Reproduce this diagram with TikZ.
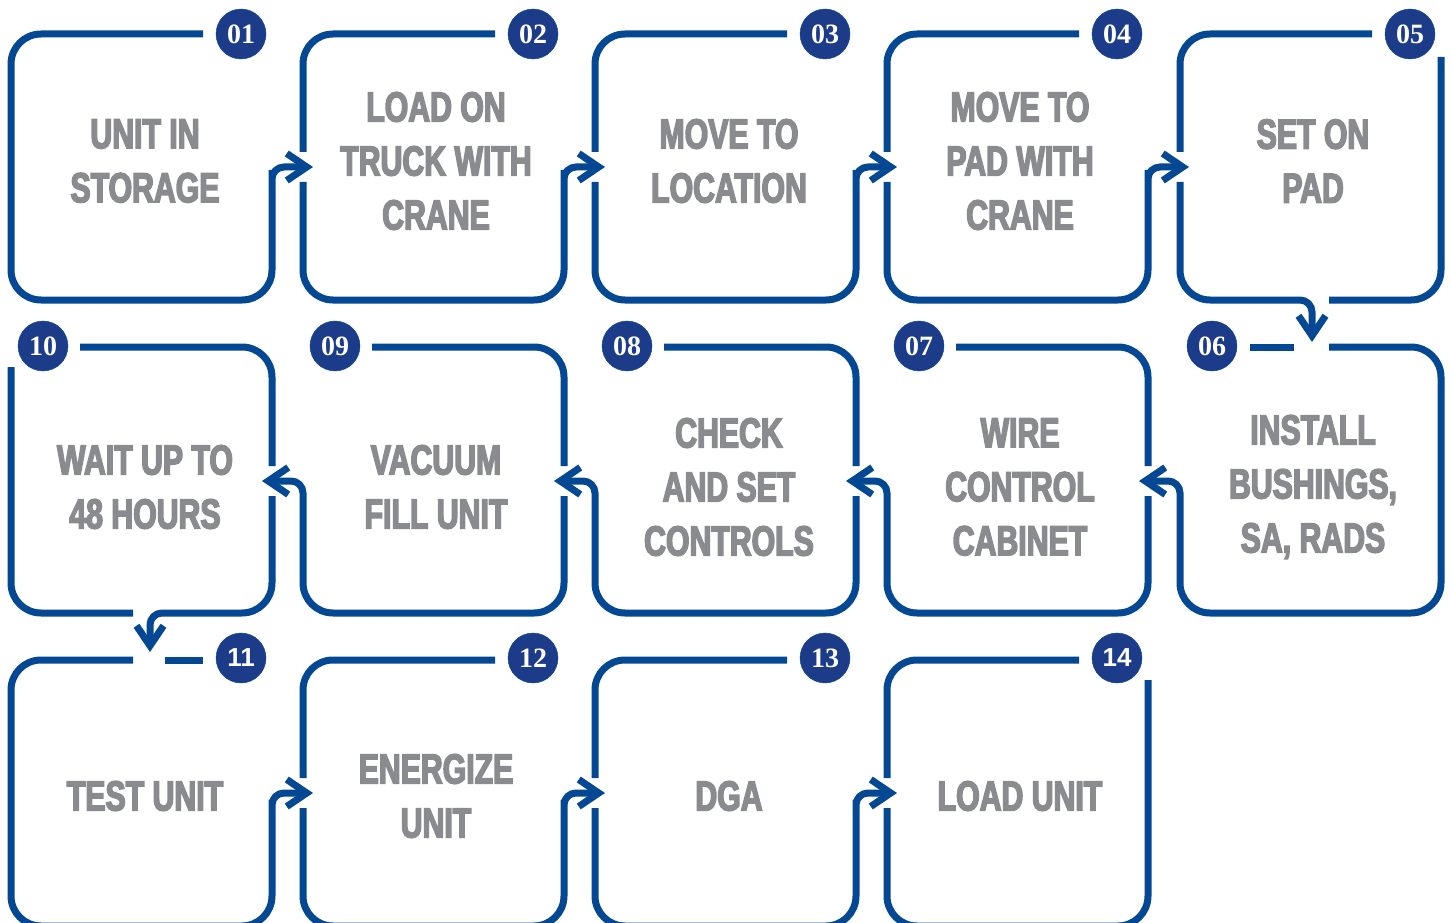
\documentclass[tikz,border=0pt]{standalone}
\usepackage{fontspec}
\usepackage{xcolor}
\usetikzlibrary{arrows.meta}
\newfontfamily\stepfont{Liberation Sans Bold}[FakeStretch=0.72,FakeBold=3.5]
\newfontfamily\numfont{Liberation Serif Bold}
\newfontfamily\numsans{Liberation Sans Bold}
\definecolor{lineblue}{RGB}{4,72,148}
\definecolor{numblue}{RGB}{28,60,138}
\definecolor{stepgray}{RGB}{138,139,143}
\tikzset{
    step-line/.style = {draw=lineblue, line width=7pt, rounded corners=30pt},
    step-arrow/.style = {step-line, -{Straight Barb[length=20pt,width=27pt]}},
    step-number/.style = {circle, fill=numblue, draw=lineblue, thin, minimum size=50pt, inner sep=0pt, text=white, font=\numfont\fontsize{28}{28}\selectfont},
    step-text/.style = {align=center, text=stepgray, font=\stepfont\fontsize{42}{54}\selectfont},
}
\begin{document}
\begin{tikzpicture}[x=1pt,y=-1pt]
\useasboundingbox (0,0) rectangle (1452,923);
\clip (0,0) rectangle (1452,923);

% first row, left to right
\draw[step-arrow] (203,34) -- (11,34) -- (11,300) -- (272,300) -- (272,200) [rounded corners=12pt] -- (272,167) -- (313,167);
\draw[step-line] (495,34) -- (303,34) -- (303,152);
\draw[step-arrow] (303,182) -- (303,300) -- (564,300) -- (564,200) [rounded corners=12pt] -- (564,167) -- (605,167);
\draw[step-line] (787,34) -- (595,34) -- (595,152);
\draw[step-arrow] (595,182) -- (595,300) -- (856,300) -- (856,200) [rounded corners=12pt] -- (856,167) -- (897,167);
\draw[step-line] (1079,34) -- (887,34) -- (887,152);
\draw[step-arrow] (887,182) -- (887,300) -- (1148,300) -- (1148,200) [rounded corners=12pt] -- (1148,167) -- (1189,167);
\draw[step-line] (1372,34) -- (1180,34) -- (1180,152);
\draw[step-arrow] (1180,182) -- (1180,300) -- (1250,300) [rounded corners=12pt] -- (1312,300) -- (1312,342);
\draw[step-line] (1441,57) -- (1441,300) -- (1329,300);

% second row, right to left
\draw[step-line] (1250,347) -- (1294,347);
\draw[step-arrow] (1329,347) -- (1441,347) -- (1441,613) -- (1180,613) -- (1180,530) [rounded corners=12pt] -- (1180,481) -- (1139,481);
\draw[step-line] (956,347) -- (1148,347) -- (1148,466);
\draw[step-arrow] (1148,496) -- (1148,613) -- (887,613) -- (887,530) [rounded corners=12pt] -- (887,481) -- (846,481);
\draw[step-line] (664,347) -- (856,347) -- (856,466);
\draw[step-arrow] (856,496) -- (856,613) -- (595,613) -- (595,530) [rounded corners=12pt] -- (595,481) -- (554,481);
\draw[step-line] (372,347) -- (564,347) -- (564,466);
\draw[step-arrow] (564,496) -- (564,613) -- (303,613) -- (303,530) [rounded corners=12pt] -- (303,481) -- (262,481);
\draw[step-line] (80,347) -- (272,347) -- (272,466);
\draw[step-arrow] (272,496) -- (272,613) -- (200,613) [rounded corners=12pt] -- (150,613) -- (150,652);
\draw[step-line] (11,367) -- (11,613) -- (133,613);

% third row, left to right
\draw[step-line] (165,660) -- (203,660);
\draw[step-arrow] (133,660) -- (11,660) -- (11,926) -- (272,926) -- (272,830) [rounded corners=12pt] -- (272,793) -- (313,793);
\draw[step-line] (495,660) -- (303,660) -- (303,778);
\draw[step-arrow] (303,808) -- (303,926) -- (564,926) -- (564,830) [rounded corners=12pt] -- (564,793) -- (605,793);
\draw[step-line] (787,660) -- (595,660) -- (595,778);
\draw[step-arrow] (595,808) -- (595,926) -- (856,926) -- (856,830) [rounded corners=12pt] -- (856,793) -- (897,793);
\draw[step-line] (1079,660) -- (887,660) -- (887,778);
\draw[step-line] (887,808) -- (887,926) -- (1148,926) -- (1148,680);

% numbers
\node[step-number] (n01) at (241,34) {01};
\node[step-number] (n02) at (533,34) {02};
\node[step-number] (n03) at (825,34) {03};
\node[step-number] (n04) at (1117,34) {04};
\node[step-number] (n05) at (1410,34) {05};
\node[step-number] (n06) at (1212,346) {06};
\node[step-number] (n07) at (919,346) {07};
\node[step-number] (n08) at (627,346) {08};
\node[step-number] (n09) at (335,346) {09};
\node[step-number] (n10) at (43,346) {10};
\node[step-number, font=\numsans\fontsize{26}{26}\selectfont] (n11) at (241,658) {11};
\node[step-number] (n12) at (533,658) {12};
\node[step-number] (n13) at (825,658) {13};
\node[step-number, font=\numsans\fontsize{26}{26}\selectfont] (n14) at (1117,658) {14};

% step texts
\node[step-text] (t01) at (145,161) {UNIT IN\\STORAGE};
\node[step-text] (t02) at (436,161) {LOAD ON\\TRUCK WITH\\CRANE};
\node[step-text] (t03) at (729,161) {MOVE TO\\LOCATION};
\node[step-text] (t04) at (1020,161) {MOVE TO\\PAD WITH\\CRANE};
\node[step-text] (t05) at (1313,161) {SET ON\\PAD};
\node[step-text] (t06) at (1313,487) {INSTALL\\BUSHINGS,\\SA, RADS};
\node[step-text] (t07) at (1020,487) {WIRE\\CONTROL\\CABINET};
\node[step-text] (t08) at (729,487) {CHECK\\AND SET\\CONTROLS};
\node[step-text] (t09) at (436,487) {VACUUM\\FILL UNIT};
\node[step-text] (t10) at (145,487) {WAIT UP TO\\48 HOURS};
\node[step-text] (t11) at (145,796) {TEST UNIT};
\node[step-text] (t12) at (436,796) {ENERGIZE\\UNIT};
\node[step-text] (t13) at (729,796) {DGA};
\node[step-text] (t14) at (1020,796) {LOAD UNIT};
\end{tikzpicture}
\end{document}
